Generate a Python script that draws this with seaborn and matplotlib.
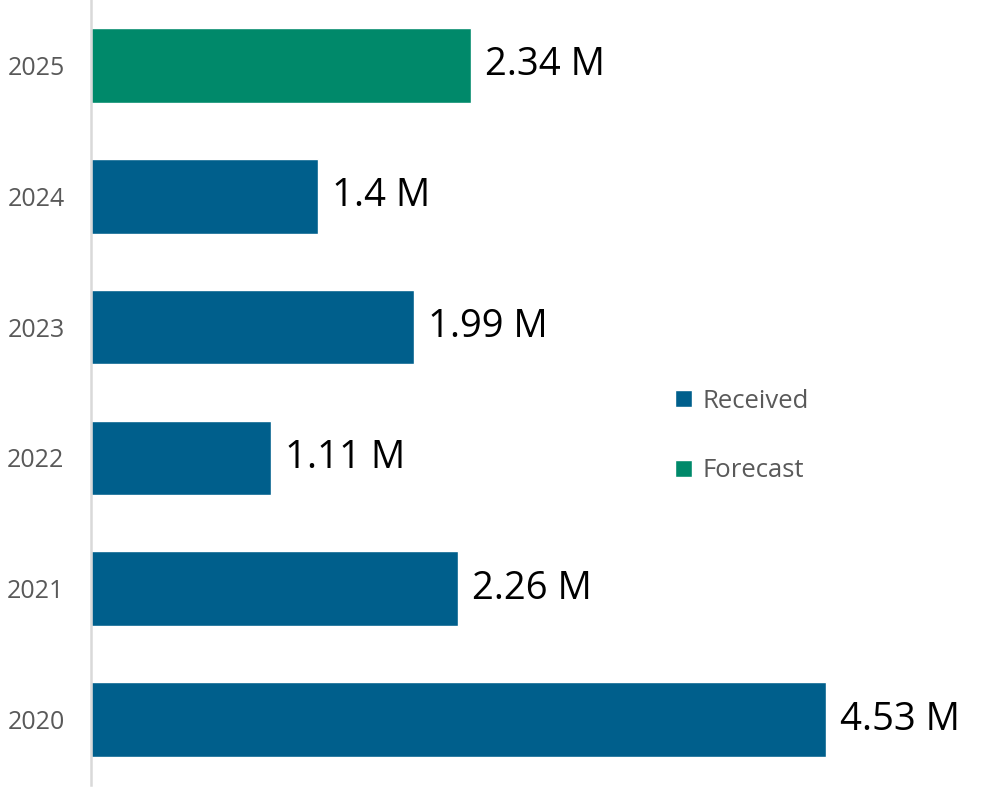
import pandas as pd
import matplotlib.pyplot as plt
import seaborn as sns

# Values (millions)
years = ['2025', '2024', '2023', '2022', '2021', '2020']
values = [2.34, 1.4, 1.99, 1.11, 2.26, 4.53]
kinds = ['Forecast', 'Received', 'Received', 'Received', 'Received', 'Received']

df = pd.DataFrame({'Year': years, 'Value': values, 'Type': kinds})

sns.set_style('white')
plt.rcParams['font.family'] = ['Open Sans', 'DejaVu Sans']

fig = plt.figure(figsize=(9.92, 7.88), dpi=100)
ax = fig.add_axes([91 / 992, 3 / 788, 1 - 91 / 992, 785 / 788])

palette = {'Received': '#005F8C', 'Forecast': '#00896A'}
sns.barplot(data=df, x='Value', y='Year', hue='Type', order=years,
            hue_order=['Received', 'Forecast'], palette=palette,
            orient='h', dodge=False, width=0.57, saturation=1, ax=ax)

# Data labels
for cont in ax.containers:
    ax.bar_label(cont, fmt=lambda v: f'{v:g} M', padding=10,
                 fontsize=27.5, color='black')

ax.set_xlim(0, 5.55)
ax.set_ylim(5.5, -0.5)
ax.set_xlabel('')
ax.set_ylabel('')
ax.set_xticks([])
ax.tick_params(axis='y', length=0, pad=19, labelsize=18, labelcolor='#595959')

for side in ['top', 'right', 'bottom']:
    ax.spines[side].set_visible(False)
ax.spines['left'].set_color('#d9d9d9')
ax.spines['left'].set_linewidth(1.8)

handles, labels = ax.get_legend_handles_labels()
ax.legend(handles, labels, loc='center left', bbox_to_anchor=(652 / 992, 1 - 436 / 788),
          bbox_transform=fig.transFigure, frameon=False, fontsize=18.5,
          handlelength=0.65, handleheight=0.65, handletextpad=0.4,
          labelspacing=1.75, labelcolor='#595959')

fig.savefig('out.png', dpi=100)
